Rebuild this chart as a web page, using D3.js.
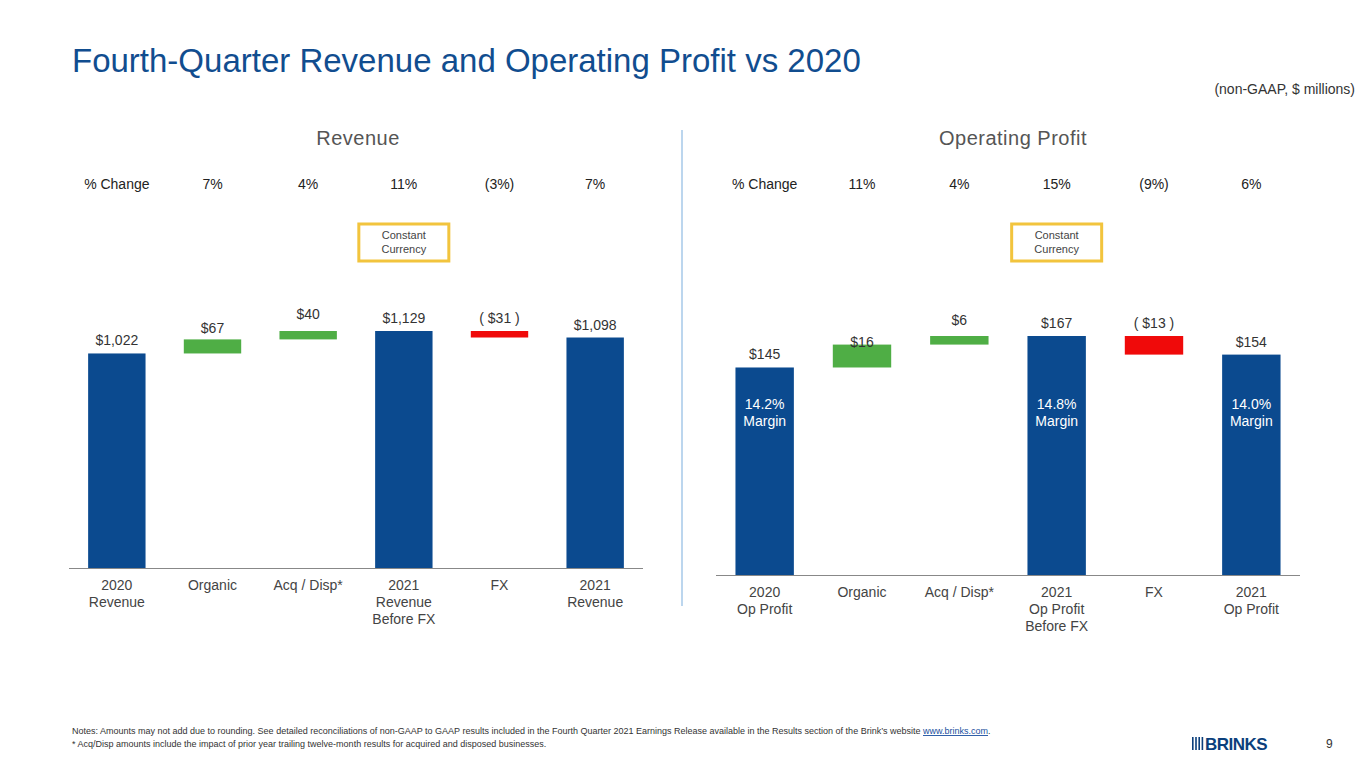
<!DOCTYPE html><html><head><meta charset="utf-8">
<script src="https://cdn.jsdelivr.net/npm/d3@7"></script>
<style>body{margin:0;background:#fff;font-family:"Liberation Sans",Arial,sans-serif}</style></head><body>
<svg id="c" width="1365" height="768"></svg>
<script>
const revCats=["2020|Revenue","Organic","Acq / Disp*","2021|Revenue|Before FX","FX","2021|Revenue"];
const revVals=[1022,67,40,1129,-31,1098];
const revLabels=["$1,022","$67","$40","$1,129","( $31 )","$1,098"];
const revPct=["% Change","7%","4%","11%","(3%)","7%"];
const opCats=["2020|Op Profit","Organic","Acq / Disp*","2021|Op Profit|Before FX","FX","2021|Op Profit"];
const opVals=[145,16,6,167,-13,154];
const opLabels=["$145","$16","$6","$167","( $13 )","$154"];
const opPct=["% Change","11%","4%","15%","(9%)","6%"];
const opMargins=["14.2%|Margin",null,null,"14.8%|Margin",null,"14.0%|Margin"];
const kinds=["total","delta","delta","total","delta","total"];
const svg=d3.select("#c");
const BLUE="#0b4a8f",GREEN="#4fae45",RED="#f00a0a";
svg.append("text").attr("x",72).attr("y",72).attr("font-size",33).attr("fill","#114d8f").text("Fourth-Quarter Revenue and Operating Profit vs 2020");
svg.append("text").attr("x",1355).attr("y",94).attr("text-anchor","end").attr("font-size",14).attr("fill","#333").text("(non-GAAP, $ millions)");
svg.append("line").attr("x1",682).attr("x2",682).attr("y1",130).attr("y2",606).attr("stroke","#bcd6ee").attr("stroke-width",2);
function chart(o){
  const g=svg.append("g");
  const x=d3.scaleBand().domain(o.cats).range([o.x0,o.x1]).paddingInner(0.4).paddingOuter(0.2);
  const y=d3.scaleLinear().domain([0,o.max]).range([o.base,o.topY]);
  g.append("text").attr("x",o.tx).attr("y",145).attr("text-anchor","middle").attr("font-size",20).attr("fill","#555").attr("letter-spacing",0.5).text(o.title);
  let run=0;
  o.vals.forEach((v,i)=>{
    const c=o.cats[i];let a,b,col;
    if(kinds[i]==="total"){a=0;b=v;run=v;col=BLUE;}else{a=run;b=run+v;run=b;col=v<0?RED:GREEN;}
    const top=y(Math.max(a,b)),bot=y(Math.min(a,b));
    g.append("rect").attr("x",x(c)).attr("width",x.bandwidth()).attr("y",top).attr("height",bot-top).attr("fill",col);
    const ly=kinds[i]==="total"?top-8:(v<0?y(a)-8:y(a)-20);
    g.append("text").attr("x",x(c)+x.bandwidth()/2).attr("y",ly).attr("text-anchor","middle").attr("font-size",14).attr("fill","#333").text(o.labels[i]);
    const t=g.append("text").attr("x",x(c)+x.bandwidth()/2).attr("y",o.base+22).attr("text-anchor","middle").attr("font-size",14).attr("fill","#444");
    c.split("|").forEach((s,k)=>t.append("tspan").attr("x",x(c)+x.bandwidth()/2).attr("dy",k?17:0).text(s));
    const px=i===0?x(c)+x.bandwidth()/2:x(c)+x.bandwidth()/2;
    g.append("text").attr("x",px).attr("y",189).attr("text-anchor","middle").attr("font-size",14).attr("fill","#222").text(o.pct[i]);
    if(o.margins&&o.margins[i]){const m=g.append("text").attr("x",x(c)+x.bandwidth()/2).attr("y",409).attr("text-anchor","middle").attr("font-size",14).attr("fill","#fff");
      o.margins[i].split("|").forEach((s,k)=>m.append("tspan").attr("x",x(c)+x.bandwidth()/2).attr("dy",k?17:0).text(s));}
  });
  g.append("line").attr("x1",o.x0).attr("x2",o.x1).attr("y1",o.base+0.5).attr("y2",o.base+0.5).attr("stroke","#888");
  const cx=x(o.cats[3])+x.bandwidth()/2;
  g.append("rect").attr("x",cx-45).attr("y",224).attr("width",90).attr("height",37).attr("fill","none").attr("stroke","#f2c43d").attr("stroke-width",3);
  const ct=g.append("text").attr("x",cx).attr("y",239).attr("text-anchor","middle").attr("font-size",11).attr("fill","#444");
  ct.append("tspan").attr("x",cx).text("Constant");ct.append("tspan").attr("x",cx).attr("dy",14).text("Currency");
}
chart({cats:revCats,vals:revVals,labels:revLabels,pct:revPct,x0:69,x1:643,base:568,topY:331,max:1129,title:"Revenue",tx:358});
chart({cats:opCats,vals:opVals,labels:opLabels,pct:opPct,margins:opMargins,x0:716,x1:1300,base:575,topY:336,max:167,title:"Operating Profit",tx:1013});
const n=svg.append("text").attr("x",72).attr("y",734).attr("font-size",9).attr("fill","#333");
n.append("tspan").text("Notes: Amounts may not add due to rounding. See detailed reconciliations of non-GAAP to GAAP results included in the Fourth Quarter 2021 Earnings Release available in the Results section of the Brink’s website ");
n.append("tspan").attr("fill","#1a4fa0").attr("text-decoration","underline").text("www.brinks.com");
n.append("tspan").text(".");
svg.append("text").attr("x",72).attr("y",747).attr("font-size",9).attr("fill","#333").text("* Acq/Disp amounts include the impact of prior year trailing twelve-month results for acquired and disposed businesses.");
const lg=svg.append("g");
for(let i=0;i<4;i++)lg.append("rect").attr("x",1192+i*3.2).attr("y",737).attr("width",1.6).attr("height",13).attr("fill","#0b3f7c");
lg.append("text").attr("x",1205).attr("y",750).attr("font-size",17).attr("font-weight","bold").attr("fill","#0b3f7c").attr("letter-spacing",-0.5).text("BRINKS");
svg.append("text").attr("x",1326).attr("y",748).attr("font-size",12).attr("fill","#333").text("9");
</script></body></html>
